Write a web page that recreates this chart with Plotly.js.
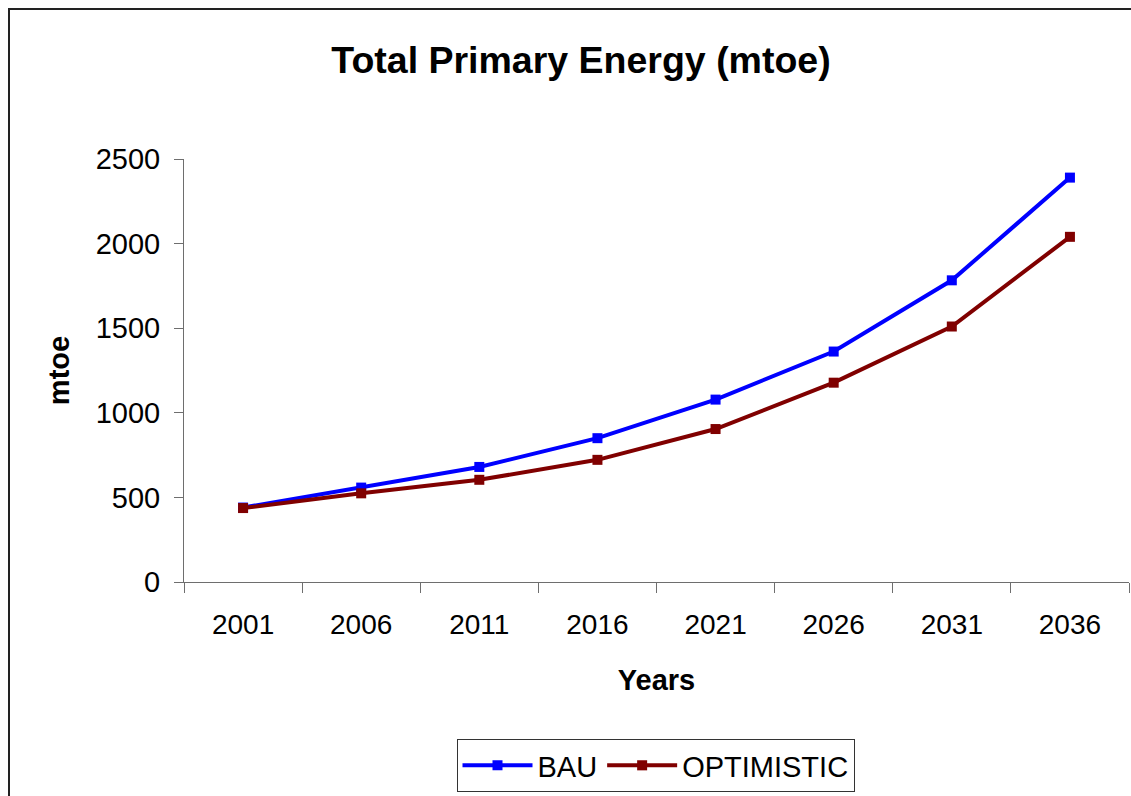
<!DOCTYPE html>
<html>
<head>
<meta charset="utf-8">
<script src="https://cdn.plot.ly/plotly-3.0.1.min.js"></script>
<style>
  html, body { margin: 0; padding: 0; background: #ffffff; }
  #chart { width: 1131px; height: 796px; }
</style>
</head>
<body>
<div id="chart"></div>
<script>
// ---- data ----
const years = ["2001", "2006", "2011", "2016", "2021", "2026", "2031", "2036"];
const bau = [440, 558, 680, 850, 1078, 1362, 1783, 2390];
const optimistic = [437, 524, 604, 722, 904, 1178, 1510, 2040];
const yTicks = [0, 500, 1000, 1500, 2000, 2500];
const yGrid = [500, 1000, 1500, 2000];

const FONT = 'Arial, "Liberation Sans", sans-serif';

// plot area in pixels (for converting the frame to paper coords)
const L = 184, R = 2, T = 159, B = 214, W = 1131, H = 796;
const pw = W - L - R, ph = H - T - B;
const px = p => (p - L) / pw;
const py = p => (H - B - p) / ph;

const traces = [
  {
    x: years, y: bau, name: "BAU", type: "scatter", mode: "lines+markers",
    line: { color: "#0000ff", width: 4 },
    marker: { symbol: "square", size: 10, color: "#0000ff" }
  },
  {
    x: years, y: optimistic, name: "OPTIMISTIC", type: "scatter", mode: "lines+markers",
    line: { color: "#800000", width: 4 },
    marker: { symbol: "square", size: 10, color: "#800000" }
  }
];

const layout = {
  width: W, height: H,
  margin: { l: L, r: R, t: T, b: B, pad: 0 },
  paper_bgcolor: "#ffffff",
  plot_bgcolor: "#ffffff",
  font: { family: FONT, color: "#000000" },
  showlegend: true,
  title: {
    text: "<b>Total Primary Energy (mtoe)</b>",
    font: { family: FONT, size: 37.5, color: "#000000" },
    xref: "container", x: 581 / W, xanchor: "center",
    yref: "container", y: 1 - 60 / H, yanchor: "middle"
  },
  xaxis: {
    type: "category",
    range: [-0.5, years.length - 0.5],
    showgrid: false, zeroline: false,
    showline: true, linecolor: "#6e6e6e", linewidth: 1,
    ticks: "outside", tickson: "boundaries", ticklen: 10, tickcolor: "#6e6e6e", tickwidth: 1,
    tickfont: { family: FONT, size: 28, color: "#000000" },
    ticklabelstandoff: 17,
    title: { text: "<b>Years</b>", font: { family: FONT, size: 29, color: "#000000" }, standoff: 31 },
    fixedrange: true
  },
  yaxis: {
    range: [0, 2500],
    tickvals: yTicks,
    showgrid: false, zeroline: false,
    showline: true, linecolor: "#6e6e6e", linewidth: 1,
    ticks: "outside", ticklen: 9, tickcolor: "#6e6e6e", tickwidth: 1,
    tickfont: { family: FONT, size: 29, color: "#000000" },
    ticklabelstandoff: 8,
    title: { text: "<b>mtoe</b>", font: { family: FONT, size: 29, color: "#000000" }, standoff: 17 },
    fixedrange: true
  },
  yaxis2: {
    overlaying: "y", anchor: "x", side: "left",
    range: [0, 2500],
    tickvals: yGrid,
    showgrid: true, gridcolor: "#5a5a5a", gridwidth: 1,
    showticklabels: false, ticks: "", showline: false, zeroline: false,
    fixedrange: true
  },
  legend: {
    orientation: "h",
    x: px(655.5), xanchor: "center",
    y: py(739), yanchor: "top",
    bordercolor: "#333333", borderwidth: 1, bgcolor: "#ffffff",
    font: { family: FONT, size: 29, color: "#000000" },
    itemwidth: 70
  },
  shapes: [
    {
      type: "rect", xref: "paper", yref: "paper",
      x0: px(9), x1: px(1140), y0: py(805), y1: py(9),
      line: { color: "#222222", width: 2 }, fillcolor: "rgba(0,0,0,0)", layer: "below"
    }
  ]
};

Plotly.newPlot("chart", traces, layout, { displayModeBar: false, staticPlot: true });
</script>
</body>
</html>
